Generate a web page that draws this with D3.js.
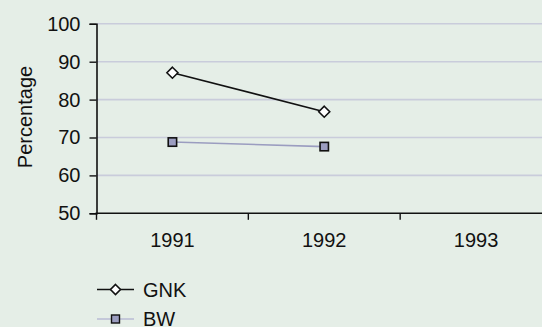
<!DOCTYPE html>
<html><head><meta charset="utf-8">
<script src="https://cdn.jsdelivr.net/npm/d3@7"></script>
<style>html,body{margin:0;padding:0;background:#e5eee7;}svg{display:block;}</style>
</head><body>
<svg id="c" width="542" height="327"></svg>
<script>
const categories = ["1991", "1992", "1993"];
const gnk = [87.1, 76.8, null];
const bw = [68.8, 67.6, null];
const yTicks = [50, 60, 70, 80, 90, 100];
const seriesNames = ["GNK", "BW"];

const svg = d3.select("#c");
const font = "Liberation Sans, Arial, Helvetica, sans-serif";
const fs = 20;
const plotLeft = 96.5, plotTop = 23.8, plotBottom = 213.3;
const x = d3.scaleBand().domain(categories).range([plotLeft, 552]);
const y = d3.scaleLinear().domain([50, 100]).range([plotBottom, plotTop]);

svg.append("rect").attr("width", 542).attr("height", 327).attr("fill", "#e5eee7");

// grid
svg.append("g").selectAll("line").data(yTicks.slice(1)).join("line")
  .attr("x1", plotLeft).attr("x2", 542)
  .attr("y1", d => y(d)).attr("y2", d => y(d))
  .attr("stroke", "#c9ccdb").attr("stroke-width", 1.6);

// y axis
const ya = svg.append("g").attr("transform", `translate(${plotLeft},0)`)
  .call(d3.axisLeft(y).tickValues(yTicks).tickSize(7).tickPadding(9));
ya.select(".domain").attr("stroke", "#111").attr("stroke-width", 1.6);
ya.selectAll(".tick line").attr("stroke", "#111").attr("stroke-width", 1.4);
ya.selectAll("text").attr("font-family", font).attr("font-size", fs).attr("fill", "#111");

// x axis
const xa = svg.append("g").attr("transform", `translate(0,${plotBottom})`)
  .call(d3.axisBottom(x).tickSize(0).tickPadding(20));
xa.select(".domain").remove();
xa.selectAll("text").attr("font-family", font).attr("font-size", fs).attr("fill", "#111");
svg.append("line").attr("x1", plotLeft - 1).attr("x2", 542).attr("y1", plotBottom).attr("y2", plotBottom)
  .attr("stroke", "#111").attr("stroke-width", 1.6);
svg.append("g").selectAll("line").data(categories).join("line")
  .attr("x1", d => x(d)).attr("x2", d => x(d))
  .attr("y1", plotBottom).attr("y2", plotBottom + 6.5)
  .attr("stroke", "#111").attr("stroke-width", 1.4);

// y label
svg.append("text").attr("transform", `translate(31.5,117) rotate(-90)`)
  .attr("text-anchor", "middle").attr("font-family", font).attr("font-size", fs)
  .attr("fill", "#111").text("Percentage");

const cx = d => x(d) + x.bandwidth() / 2;
const line = d3.line().defined(d => d.v != null).x(d => cx(d.c)).y(d => y(d.v));
const gData = categories.map((c, i) => ({c, v: gnk[i]}));
const bData = categories.map((c, i) => ({c, v: bw[i]}));

svg.append("path").datum(bData).attr("d", line).attr("fill", "none")
  .attr("stroke", "#9b9dc0").attr("stroke-width", 1.6);
svg.append("path").datum(gData).attr("d", line).attr("fill", "none")
  .attr("stroke", "#111").attr("stroke-width", 1.6);

const diamond = (cxp, cyp, r) => `M${cxp},${cyp - r}L${cxp + r},${cyp}L${cxp},${cyp + r}L${cxp - r},${cyp}Z`;
svg.append("g").selectAll("path").data(gData.filter(d => d.v != null)).join("path")
  .attr("d", d => diamond(cx(d.c), y(d.v), 5.5))
  .attr("fill", "#fff").attr("stroke", "#111").attr("stroke-width", 1.6);
svg.append("g").selectAll("rect").data(bData.filter(d => d.v != null)).join("rect")
  .attr("x", d => cx(d.c) - 4.2).attr("y", d => y(d.v) - 4.2)
  .attr("width", 8.4).attr("height", 8.4)
  .attr("fill", "#9b9dc0").attr("stroke", "#111").attr("stroke-width", 1.6);

// legend
const lg = svg.append("g");
const ly = [289.5, 319];
lg.append("line").attr("x1", 97).attr("x2", 134).attr("y1", ly[0]).attr("y2", ly[0])
  .attr("stroke", "#111").attr("stroke-width", 1.6);
lg.append("path").attr("d", diamond(115.5, ly[0], 5)).attr("fill", "#fff")
  .attr("stroke", "#111").attr("stroke-width", 1.6);
lg.append("line").attr("x1", 97).attr("x2", 134).attr("y1", ly[1]).attr("y2", ly[1])
  .attr("stroke", "#b8bbd4").attr("stroke-width", 1.4);
lg.append("rect").attr("x", 111.5).attr("y", ly[1] - 4).attr("width", 8).attr("height", 8)
  .attr("fill", "#9b9dc0").attr("stroke", "#111").attr("stroke-width", 1.4);
lg.selectAll("text").data(seriesNames).join("text")
  .attr("x", 143).attr("y", (d, i) => ly[i] + 7)
  .attr("font-family", font).attr("font-size", fs).attr("fill", "#111").text(d => d);
</script>
</body></html>
